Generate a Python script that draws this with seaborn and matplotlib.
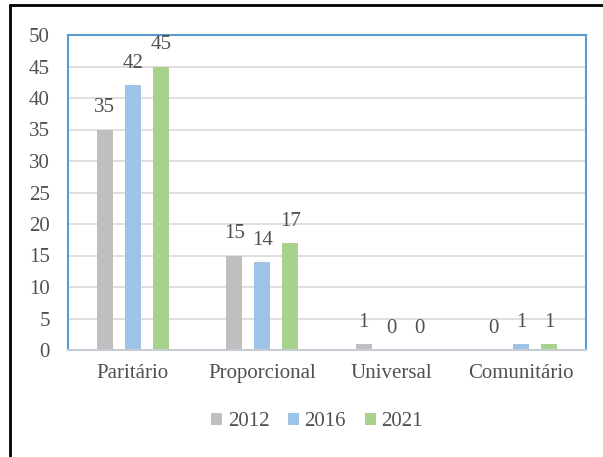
import matplotlib
matplotlib.use("Agg")
import matplotlib.pyplot as plt
import seaborn as sns
import pandas as pd
from matplotlib.lines import Line2D

categories = ["Paritário", "Proporcional", "Universal", "Comunitário"]
years = ["2012", "2016", "2021"]
v2012 = [35, 15, 1, 0]
v2016 = [42, 14, 0, 1]
v2021 = [45, 17, 0, 1]
yticks = [0, 5, 10, 15, 20, 25, 30, 35, 40, 45, 50]

colors = {"2012": "#BFBFBF", "2016": "#9DC3E6", "2021": "#A9D18E"}
txt = "#505050"

rows = []
for yr, vals in zip(years, [v2012, v2016, v2021]):
    for c, v in zip(categories, vals):
        rows.append({"cat": c, "year": yr, "val": v})
df = pd.DataFrame(rows)

sns.set_style("white")
plt.rcParams["font.family"] = ["Liberation Serif", "DejaVu Serif"]

fig = plt.figure(figsize=(6.03, 4.57), dpi=100)
ax = fig.add_axes([68/603, 1 - 350/457, (586 - 68)/603, (350 - 35)/457])

sns.barplot(data=df, x="cat", y="val", hue="year", palette=colors,
            order=categories, hue_order=years, width=0.65, ax=ax,
            errorbar=None, legend=True, saturation=1, linewidth=0)

# shrink bars within slots to create gaps
frac = 16/28
for p in ax.patches:
    w = p.get_width()
    if w <= 0:
        continue
    cx = p.get_x() + w/2
    nw = w*frac
    p.set_x(cx - nw/2)
    p.set_width(nw)

# value labels
for cont in ax.containers:
    for bar in cont:
        h = bar.get_height()
        cx = bar.get_x() + bar.get_width()/2
        ax.annotate(f"{int(round(h))}", (cx, h), xytext=(0, 15.5),
                    textcoords="offset points", ha="center", va="center",
                    fontsize=15, color=txt)

ax.set_ylim(0, 50)
ax.set_yticks(yticks)
ax.set_yticklabels([str(t) for t in yticks], fontsize=15, color=txt)
ax.tick_params(axis="x", labelsize=15, labelcolor=txt, length=0, pad=10)
ax.tick_params(axis="y", length=0, pad=13)
ax.set_xlabel("")
ax.set_ylabel("")
ax.grid(axis="y", color="#D9D9D9", linewidth=1.2)
ax.set_axisbelow(True)

for s in ["top", "left", "right"]:
    ax.spines[s].set_visible(True)
    ax.spines[s].set_color("#5B9BD5")
    ax.spines[s].set_linewidth(1.5)
ax.spines["bottom"].set_visible(True)
ax.spines["bottom"].set_color("#C5CCD4")
ax.spines["bottom"].set_linewidth(1.5)

leg = ax.get_legend()
handles = leg.legend_handles
leg.remove()
fig.legend(handles, years, loc="center", bbox_to_anchor=(317/603, 1 - 422/457),
           ncol=3, frameon=False, fontsize=15, handlelength=0.55, handleheight=0.55,
           handletextpad=0.25, columnspacing=0.9, labelcolor=txt)

# outer frame lines (top and left)
fig.add_artist(Line2D([10/603, 1], [1 - 5/457, 1 - 5/457], color="black", linewidth=2,
                      transform=fig.transFigure))
fig.add_artist(Line2D([10/603, 10/603], [0, 1 - 5/457], color="black", linewidth=2,
                      transform=fig.transFigure))

fig.savefig("out.png", dpi=100)
